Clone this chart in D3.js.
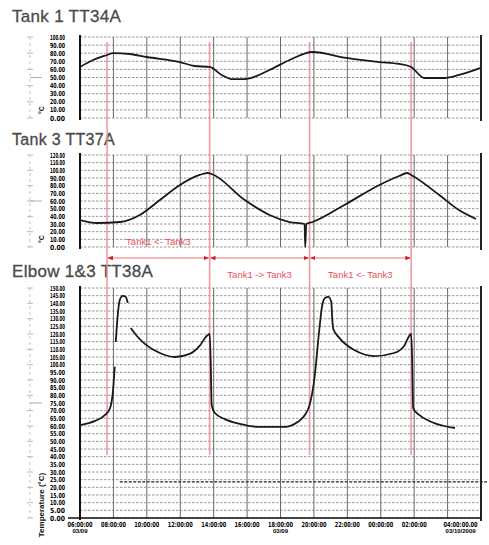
<!DOCTYPE html>
<html lang="en">
<head>
  <meta charset="UTF-8" />
  <title>Tank temperatures TT34A / TT37A / TT38A</title>
  <style>
    html, body { margin: 0; padding: 0; background: #fff; }
    svg { display: block; font-family: "Liberation Sans", Arial, sans-serif; }
  </style>
</head>
<body>
<svg id="chart" width="489" height="545"></svg>

<script src="https://d3js.org/d3.v7.min.js"></script>
<script>
  // time in chart divisions (0..12), values in chart units
  const tank1 = [
    [0, 63], [0.39, 71.6], [0.81, 77.8], [0.99, 80.2], [1.49, 79], [2.0, 75.3],
    [2.99, 69.1], [3.43, 64.2], [3.88, 63], [4.24, 53.1], [4.54, 48.1], [4.93, 48.1],
    [5.67, 59.3], [6.27, 71.6], [6.96, 81.5], [7.97, 74.1], [8.96, 69.1], [9.55, 66.7],
    [9.91, 63], [10.3, 49.4], [10.9, 49.4], [11.34, 53.1], [11.97, 61.7]
  ];
  const tank3 = [
    [0, 35.2], [0.51, 31.3], [1.19, 32.6], [1.79, 41.8], [2.39, 61.3], [2.99, 80.9],
    [3.58, 94], [3.82, 96.5], [3.94, 95.2], [4.93, 61.3], [5.67, 41.8], [6.27, 32.6],
    [6.72, 30], [6.74, 0], [6.77, 30], [6.96, 32.6], [7.91, 54.8], [8.96, 80.9],
    [9.55, 92.6], [9.79, 96.5], [9.91, 94], [10.75, 67.8], [11.34, 48.2], [11.85, 36.5]
  ];
  // null = pen lift
  const elbow = [
    [0, 60.6], [0.45, 63.3], [0.75, 67.2], [0.9, 71.7], [0.99, 83.6], [1.04, 98.6], null,
    [1.07, 114.8], [1.13, 132.5], [1.19, 142.2], [1.28, 144.8], [1.37, 144.2], [1.43, 140.3], null,
    [1.52, 123.9], [1.7, 118.7], [1.94, 113.6], [2.39, 107.6], [2.84, 105], [3.28, 107],
    [3.58, 112.2], [3.79, 118.7], [3.88, 120], [3.91, 103], [3.94, 73.7], [4.03, 68.6],
    [4.33, 64.5], [4.78, 61.4], [5.37, 59.4], [6.12, 59.4], [6.51, 62.6], [6.75, 67.8],
    [6.87, 73.7], [7.01, 90], [7.16, 122.6], [7.25, 138.9], [7.34, 143.6], [7.43, 144.2],
    [7.52, 140.9], [7.55, 129.2], [7.58, 123.3], [7.76, 117.5], [8.21, 109.5], [8.81, 105.6],
    [9.4, 107.6], [9.7, 112.2], [9.91, 120], [9.94, 103], [9.97, 71.7], [10.15, 67.2],
    [10.45, 63.3], [10.9, 60], [11.22, 58.7]
  ];
  const elbowRef = 23.6;

  const tank1Ticks = [0, 10, 20, 30, 40, 50, 60, 70, 80, 90, 100];
  const tank3Ticks = [0, 10, 20, 30, 40, 50, 60, 70, 80, 90, 100, 110, 120];
  const elbowTicks = d3.range(0, 151, 5);

  const timeTicks = [0, 1, 2, 3, 4, 5, 6, 7, 8, 9, 10, 11];
  const timeLabels = ["06:00:00", "08:00:00", "10:00:00", "12:00:00", "14:00:00", "16:00:00",
                      "18:00:00", "20:00:00", "22:00:00", "00:00:00", "02:00:00", "04:00:00.00"];
  const dateLabels = { 0: "03/09", 6: "03/09", 11: "03/10/2009" };

  const switchTimes = [0.81, 3.88, 6.87, 9.91];
  const transfers = [
    { from: 0.81, to: 3.88, label: "Tank1 <- Tank3", row: "in" },
    { from: 3.88, to: 6.87, label: "Tank1 -> Tank3", row: "out" },
    { from: 6.87, to: 9.91, label: "Tank1 <- Tank3", row: "out" }
  ];

  const svg = d3.select("#chart");
  const x = d3.scaleLinear().domain([0, 12]).range([80, 481]);

  const panels = [
    { title: "Tank 1 TT34A", size: 17, ty: 22, top: 37, bottom: 118, domain: [0, 100], ticks: tank1Ticks, data: tank1, unit: "°C" },
    { title: "Tank 3 TT37A", size: 16, ty: 145, top: 155, bottom: 247, domain: [0, 120], ticks: tank3Ticks, data: tank3, unit: "°C" },
    { title: "Elbow 1&3 TT38A", size: 17, ty: 277, top: 288, bottom: 518, domain: [0, 150], ticks: elbowTicks, data: elbow, unit: "Temperature (°C)" }
  ];

  panels.forEach((p, i) => {
    const y = d3.scaleLinear().domain(p.domain).range([p.bottom, p.top]);
    p.y = y;
    const g = svg.append("g");

    g.append("text")
      .attr("x", 12).attr("y", p.ty)
      .attr("font-size", p.size)
      .attr("fill", "#4a4a4a")
      .attr("stroke", "#4a4a4a").attr("stroke-width", 0.3)
      .attr("letter-spacing", 0.3)
      .text(p.title);

    // horizontal dashed grid
    g.selectAll(".hgrid")
      .data(p.ticks)
      .enter().append("line")
      .attr("x1", x(0)).attr("x2", x(12))
      .attr("y1", d => y(d)).attr("y2", d => y(d))
      .attr("stroke", "#8c8c8c")
      .attr("stroke-width", 0.9)
      .attr("stroke-dasharray", "2.5,1.5");

    // vertical major grid
    g.selectAll(".vgrid")
      .data(d3.range(1, 12))
      .enter().append("line")
      .attr("x1", d => x(d)).attr("x2", d => x(d))
      .attr("y1", p.top).attr("y2", p.bottom)
      .attr("stroke", "#6a6a6a")
      .attr("stroke-width", 1);

    // left/right frame
    g.append("line").attr("x1", x(0)).attr("x2", x(0))
      .attr("y1", p.top - 2).attr("y2", p.bottom + 2)
      .attr("stroke", "#111").attr("stroke-width", 2);
    g.append("line").attr("x1", x(12)).attr("x2", x(12))
      .attr("y1", p.top - 2).attr("y2", p.bottom + 3)
      .attr("stroke", "#222").attr("stroke-width", 2);

    // tick labels
    g.selectAll(".tl")
      .data(p.ticks)
      .enter().append("text")
      .attr("x", 50).attr("y", d => y(d) + 2.5)
      .attr("font-size", 7)
      .attr("font-weight", "bold")
      .attr("font-family", "'DejaVu Sans Condensed', 'DejaVu Sans', sans-serif")
      .attr("textLength", 15)
      .attr("lengthAdjust", "spacingAndGlyphs")
      .attr("fill", "#000")
      .text(d => d3.format(".2f")(d));

    // faint scale on the far left
    g.append("line").attr("x1", 30).attr("x2", 30)
      .attr("y1", p.top).attr("y2", p.bottom)
      .attr("stroke", "#bbb").attr("stroke-width", 0.8).attr("stroke-dasharray", "3,3");
    g.selectAll(".lt")
      .data(p.ticks.filter((d, k) => k % 2 === 0))
      .enter().append("line")
      .attr("x1", 27).attr("x2", 33)
      .attr("y1", d => y(d)).attr("y2", d => y(d))
      .attr("stroke", "#aaa").attr("stroke-width", 0.8);
    const mid = (p.domain[0] + p.domain[1]) / 2;
    g.append("line").attr("x1", 30).attr("x2", 42)
      .attr("y1", y(mid)).attr("y2", y(mid))
      .attr("stroke", "#999").attr("stroke-width", 0.8);

    // unit, rotated
    const uy = i === 2 ? 505 : p.bottom - 4;
    g.append("text")
      .attr("transform", `translate(44,${uy}) rotate(-90)`)
      .attr("font-size", i === 2 ? 8 : 7)
      .attr("font-weight", "bold")
      .attr("fill", "#111")
      .attr("text-anchor", i === 2 ? "middle" : "start")
      .text(p.unit);
  });

  // reference trace in elbow panel
  const pe = panels[2];
  svg.append("line")
    .attr("x1", x(1.19)).attr("x2", x(12) + 6)
    .attr("y1", pe.y(elbowRef)).attr("y2", pe.y(elbowRef))
    .attr("stroke", "#222").attr("stroke-width", 1.2)
    .attr("stroke-dasharray", "3,1.5");

  // bottom axis line
  svg.append("line")
    .attr("x1", 68).attr("x2", x(12))
    .attr("y1", pe.bottom).attr("y2", pe.bottom)
    .attr("stroke", "#111").attr("stroke-width", 1.5);

  // time labels
  svg.selectAll(".tt")
    .data(timeTicks)
    .enter().append("text")
    .attr("x", d => x(d) + (d === 11 ? 13 : 0))
    .attr("y", pe.bottom + 9)
    .attr("text-anchor", "middle")
    .attr("font-size", 7)
    .attr("font-weight", "bold")
    .attr("font-family", "'DejaVu Sans Condensed', 'DejaVu Sans', sans-serif")
    .attr("textLength", d => d === 11 ? 34 : 25)
    .attr("lengthAdjust", "spacingAndGlyphs")
    .attr("fill", "#000")
    .text((d, k) => timeLabels[k]);
  svg.selectAll(".td")
    .data(Object.keys(dateLabels).map(Number))
    .enter().append("text")
    .attr("x", d => x(d) + (d === 11 ? 13 : 0))
    .attr("y", pe.bottom + 15)
    .attr("text-anchor", "middle")
    .attr("font-size", 6)
    .attr("font-weight", "bold")
    .attr("fill", "#000")
    .text(d => dateLabels[d]);

  // red switch-over lines
  svg.selectAll(".sw")
    .data(switchTimes)
    .enter().append("line")
    .attr("x1", d => x(d)).attr("x2", d => x(d))
    .attr("y1", 42).attr("y2", 455)
    .attr("stroke", "#f08a94")
    .attr("stroke-width", 1.6)
    .attr("opacity", 0.85);

  // arrows
  const defs = svg.append("defs");
  defs.append("marker").attr("id", "ah").attr("viewBox", "0 0 10 10")
    .attr("refX", 9).attr("refY", 5).attr("markerWidth", 4.5).attr("markerHeight", 4.5)
    .attr("orient", "auto-start-reverse")
    .append("path").attr("d", "M0,1 L10,5 L0,9 Z").attr("fill", "#d0202a");

  const arrowY = 258;
  svg.selectAll(".arr")
    .data(transfers)
    .enter().append("line")
    .attr("x1", d => x(d.from) + 1).attr("x2", d => x(d.to) - 1)
    .attr("y1", arrowY).attr("y2", arrowY)
    .attr("stroke", "#f07078").attr("stroke-width", 1.2)
    .attr("marker-start", "url(#ah)").attr("marker-end", "url(#ah)");

  svg.selectAll(".arl")
    .data(transfers)
    .enter().append("text")
    .attr("x", d => (x(d.from) + x(d.to)) / 2)
    .attr("y", d => d.row === "in" ? 245 : 278)
    .attr("text-anchor", "middle")
    .attr("font-size", 9.5)
    .attr("fill", "#e8505a")
    .text(d => d.label);

  // traces
  panels.forEach(p => {
    const line = d3.line()
      .defined(d => d !== null)
      .x(d => x(d[0]))
      .y(d => p.y(d[1]))
      .curve(d3.curveMonotoneX);
    svg.append("path")
      .datum(p.data)
      .attr("fill", "none")
      .attr("stroke", "#1a1a1a")
      .attr("stroke-width", 1.8)
      .attr("stroke-linejoin", "round")
      .attr("d", line);
  });
</script>
</body>
</html>
